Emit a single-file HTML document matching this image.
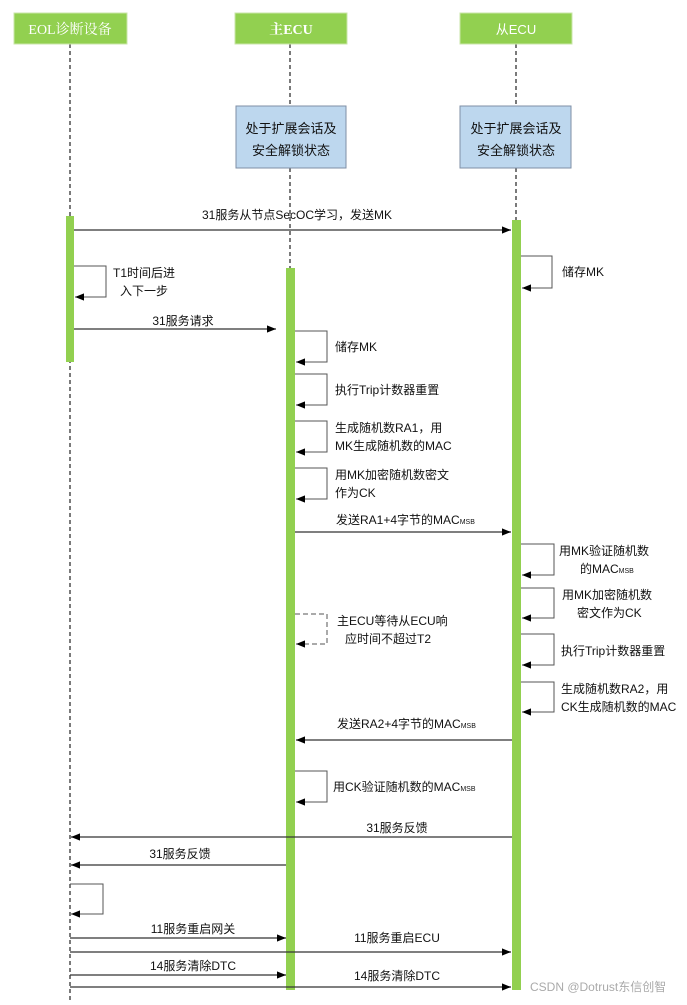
<!DOCTYPE html>
<html><head><meta charset="utf-8"><style>
html,body{margin:0;padding:0;background:#fff}
svg text{font-family:"Liberation Sans","Noto Sans CJK SC",sans-serif;font-size:12px;fill:#111}
</style></head><body>
<svg width="687" height="1000" viewBox="0 0 687 1000" xmlns="http://www.w3.org/2000/svg">
<defs>
<marker id="a" viewBox="0 0 10 10" refX="10" refY="5" markerWidth="9" markerHeight="9" markerUnits="userSpaceOnUse" orient="auto"><path d="M0,1 L10,5 L0,9 z" fill="#000"/></marker>
</defs>
<g stroke="#222" stroke-width="1.2" stroke-dasharray="4,3">
<line x1="70" y1="44" x2="70" y2="1000"/>
<line x1="290" y1="44" x2="290" y2="106"/>
<line x1="290" y1="168" x2="290" y2="268"/>
<line x1="516" y1="44" x2="516" y2="106"/>
<line x1="516" y1="168" x2="516" y2="220"/>
</g>
<g fill="#92d050" stroke="#c9e6a8" stroke-width="1">
<rect x="14" y="13" width="113" height="31"/>
<rect x="235" y="13" width="112" height="31"/>
<rect x="460" y="13" width="112" height="31"/>
</g>
<text x="70" y="34" text-anchor="middle" style="fill:#fff;font-family:'Liberation Serif','Noto Serif CJK SC',serif;font-size:14px">EOL诊断设备</text>
<text x="291" y="34" text-anchor="middle" style="fill:#fff;font-family:'Liberation Serif','Noto Serif CJK SC',serif;font-size:14px;font-weight:bold">主ECU</text>
<text x="516" y="34" text-anchor="middle" style="fill:#fff;font-size:13px">从ECU</text>
<g fill="#bdd7ee" stroke="#7f8fa6" stroke-width="1">
<rect x="236" y="106" width="110" height="62"/>
<rect x="460" y="106" width="111" height="62"/>
</g>
<text x="291" y="133" text-anchor="middle" style="font-size:13px">处于扩展会话及</text>
<text x="291" y="155" text-anchor="middle" style="font-size:13px">安全解锁状态</text>
<text x="516" y="133" text-anchor="middle" style="font-size:13px">处于扩展会话及</text>
<text x="516" y="155" text-anchor="middle" style="font-size:13px">安全解锁状态</text>
<g fill="#92d050">
<rect x="66" y="216" width="8" height="146"/>
<rect x="286" y="268" width="9" height="722"/>
<rect x="512" y="220" width="9" height="770"/>
</g>
<g stroke="#333" stroke-width="1.3" fill="none" marker-end="url(#a)">
<line x1="74" y1="230" x2="511" y2="230"/>
<line x1="74" y1="329" x2="276" y2="329"/>
<line x1="295" y1="532" x2="511" y2="532"/>
<line x1="512" y1="740" x2="296" y2="740"/>
<line x1="512" y1="837" x2="71" y2="837"/>
<line x1="286" y1="865" x2="71" y2="865"/>
<line x1="70" y1="938" x2="286" y2="938"/>
<line x1="70" y1="952" x2="511" y2="952"/>
<line x1="70" y1="975" x2="286" y2="975"/>
<line x1="70" y1="987" x2="511" y2="987"/>
</g>
<g stroke="#555" stroke-width="1" fill="none">
<path d="M74,266 H106 V297 H75" marker-end="url(#a)"/>
<path d="M521,256 H552 V288 H522" marker-end="url(#a)"/>
<path d="M295,331 H327 V362 H296" marker-end="url(#a)"/>
<path d="M295,374 H327 V405 H296" marker-end="url(#a)"/>
<path d="M295,421 H327 V452 H296" marker-end="url(#a)"/>
<path d="M295,468 H327 V499 H296" marker-end="url(#a)"/>
<path d="M521,544 H554 V575 H522" marker-end="url(#a)"/>
<path d="M521,588 H554 V618 H522" marker-end="url(#a)"/>
<path d="M521,634 H554 V665 H522" marker-end="url(#a)"/>
<path d="M521,682 H554 V712 H522" marker-end="url(#a)"/>
<path d="M295,614 H327 V644 H296" stroke-dasharray="5,3" marker-end="url(#a)"/>
<path d="M295,771 H327 V802 H296" marker-end="url(#a)"/>
<path d="M70,884 H103 V914 H71" marker-end="url(#a)"/>
</g>
<text x="297" y="219" text-anchor="middle">31服务从节点SecOC学习，发送MK</text>
<text x="113" y="277">T1时间后进</text>
<text x="120" y="295">入下一步</text>
<text x="183" y="325" text-anchor="middle">31服务请求</text>
<text x="562" y="276">储存MK</text>
<text x="335" y="351">储存MK</text>
<text x="335" y="394">执行Trip计数器重置</text>
<text x="335" y="432">生成随机数RA1，用</text>
<text x="335" y="450">MK生成随机数的MAC</text>
<text x="335" y="479">用MK加密随机数密文</text>
<text x="335" y="497">作为CK</text>
<text x="336" y="524">发送RA1+4字节的MAC<tspan style="font-size:7px">MSB</tspan></text>
<text x="559" y="555">用MK验证随机数</text>
<text x="580" y="573">的MAC<tspan style="font-size:7px">MSB</tspan></text>
<text x="562" y="599">用MK加密随机数</text>
<text x="577" y="617">密文作为CK</text>
<text x="337" y="625">主ECU等待从ECU响</text>
<text x="345" y="643">应时间不超过T2</text>
<text x="561" y="655">执行Trip计数器重置</text>
<text x="561" y="693">生成随机数RA2，用</text>
<text x="561" y="711">CK生成随机数的MAC</text>
<text x="337" y="728">发送RA2+4字节的MAC<tspan style="font-size:7px">MSB</tspan></text>
<text x="333" y="791">用CK验证随机数的MAC<tspan style="font-size:7px">MSB</tspan></text>
<text x="397" y="832" text-anchor="middle">31服务反馈</text>
<text x="180" y="858" text-anchor="middle">31服务反馈</text>
<text x="193" y="933" text-anchor="middle">11服务重启网关</text>
<text x="397" y="942" text-anchor="middle">11服务重启ECU</text>
<text x="193" y="970" text-anchor="middle">14服务清除DTC</text>
<text x="397" y="980" text-anchor="middle">14服务清除DTC</text>
<text x="530" y="991" style="fill:#aaa;font-size:12px">CSDN @Dotrust东信创智</text>
</svg>
</body></html>
